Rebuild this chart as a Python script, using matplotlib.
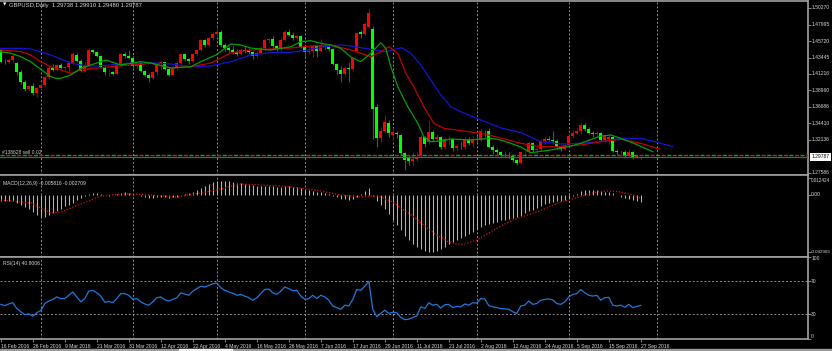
import matplotlib
matplotlib.use("Agg")
import matplotlib.pyplot as plt
from matplotlib.patches import Rectangle
from matplotlib.transforms import blended_transform_factory

plt.rcParams["font.family"] = ["Liberation Sans", "DejaVu Sans"]

W, H = 832, 351
BG = "black"
FRAME = "#a0a0a0"
TXT = "#d8d8d8"
GRID = "#8c8c8c"
FS = 3.6

# ---- daily GBPUSD candles (16 Feb 2016 .. 27 Sep 2016) ----
opens = [
    1.4450, 1.4290, 1.4285, 1.4310, 1.4270, 1.4140, 1.4010, 1.3910, 1.3950, 1.3860,
    1.3920, 1.3965, 1.4080, 1.4200, 1.4175, 1.4240, 1.4205, 1.4215, 1.4270, 1.4385,
    1.4300, 1.4160, 1.4240, 1.4445, 1.4420, 1.4360, 1.4215, 1.4140, 1.4150, 1.4115,
    1.4240, 1.4390, 1.4365, 1.4345, 1.4230, 1.4270, 1.4160, 1.4110, 1.4070, 1.4140,
    1.4260, 1.4280, 1.4190, 1.4110, 1.4200, 1.4270, 1.4390, 1.4320, 1.4300, 1.4400,
    1.4450, 1.4580, 1.4520, 1.4610, 1.4670, 1.4690, 1.4520, 1.4470, 1.4455, 1.4420,
    1.4390, 1.4450, 1.4430, 1.4420, 1.4360, 1.4410, 1.4470, 1.4580, 1.4595, 1.4500,
    1.4460, 1.4590, 1.4690, 1.4660, 1.4620, 1.4635, 1.4490, 1.4420, 1.4440, 1.4500,
    1.4430, 1.4510, 1.4490, 1.4460, 1.4260, 1.4180, 1.4120, 1.4200, 1.4190, 1.4440,
    1.4690, 1.4670, 1.4770, 1.4740, 1.3660, 1.3240, 1.3340, 1.3450, 1.3280, 1.3310,
    1.3280, 1.3030, 1.2960, 1.2920, 1.2950, 1.3000, 1.3250, 1.3180, 1.3320, 1.3220,
    1.3250, 1.3110, 1.3220, 1.3230, 1.3100, 1.3130, 1.3120, 1.3210, 1.3170, 1.3230,
    1.3210, 1.3340, 1.3330, 1.3110, 1.3070, 1.3040, 1.3010, 1.3000, 1.2990, 1.2930,
    1.2895, 1.3040, 1.3050, 1.3170, 1.3070, 1.3080, 1.3200, 1.3230, 1.3215, 1.3190,
    1.3110, 1.3090, 1.3140, 1.3260, 1.3310, 1.3330, 1.3420, 1.3360, 1.3310, 1.3290,
    1.3310, 1.3215, 1.3230, 1.3250, 1.3060, 1.3040, 1.3050, 1.2990, 1.3050, 1.2970,
    1.29738,
]
highs = [
    1.4470, 1.4330, 1.4345, 1.4400, 1.4290, 1.4170, 1.4030, 1.3970, 1.3990, 1.3945,
    1.3990, 1.4110, 1.4230, 1.4250, 1.4250, 1.4270, 1.4230, 1.4300, 1.4420, 1.4410,
    1.4320, 1.4280, 1.4480, 1.4460, 1.4430, 1.4380, 1.4230, 1.4170, 1.4165, 1.4260,
    1.4410, 1.4420, 1.4450, 1.4380, 1.4290, 1.4280, 1.4180, 1.4130, 1.4160, 1.4290,
    1.4310, 1.4290, 1.4200, 1.4230, 1.4300, 1.4400, 1.4400, 1.4340, 1.4410, 1.4460,
    1.4590, 1.4600, 1.4630, 1.4700, 1.4770, 1.4720, 1.4540, 1.4500, 1.4500, 1.4460,
    1.4470, 1.4500, 1.4470, 1.4440, 1.4430, 1.4500, 1.4600, 1.4610, 1.4640, 1.4520,
    1.4610, 1.4720, 1.4740, 1.4690, 1.4650, 1.4650, 1.4500, 1.4490, 1.4530, 1.4520,
    1.4600, 1.4530, 1.4510, 1.4480, 1.4270, 1.4230, 1.4230, 1.4290, 1.4350, 1.4700,
    1.4730, 1.4840, 1.5020, 1.4780, 1.3700, 1.3390, 1.3560, 1.3480, 1.3380, 1.3340,
    1.3300, 1.3050, 1.3000, 1.3040, 1.3050, 1.3280, 1.3270, 1.3480, 1.3350, 1.3300,
    1.3270, 1.3250, 1.3280, 1.3240, 1.3160, 1.3200, 1.3250, 1.3250, 1.3260, 1.3270,
    1.3370, 1.3350, 1.3370, 1.3140, 1.3100, 1.3060, 1.3050, 1.3040, 1.3010, 1.2950,
    1.3050, 1.3070, 1.3190, 1.3180, 1.3100, 1.3230, 1.3250, 1.3260, 1.3340, 1.3220,
    1.3140, 1.3160, 1.3280, 1.3350, 1.3370, 1.3445, 1.3440, 1.3390, 1.3330, 1.3340,
    1.3320, 1.3280, 1.3300, 1.3270, 1.3080, 1.3070, 1.3070, 1.3090, 1.3060, 1.3000,
    1.29910,
]
lows = [
    1.4275, 1.4250, 1.4270, 1.4280, 1.4100, 1.3980, 1.3880, 1.3880, 1.3835, 1.3800,
    1.3880, 1.3940, 1.4050, 1.4160, 1.4160, 1.4190, 1.4170, 1.4150, 1.4260, 1.4280,
    1.4140, 1.4150, 1.4220, 1.4390, 1.4350, 1.4200, 1.4100, 1.4090, 1.4100, 1.4100,
    1.4220, 1.4340, 1.4330, 1.4200, 1.4190, 1.4150, 1.4080, 1.4005, 1.4050, 1.4110,
    1.4180, 1.4180, 1.4090, 1.4100, 1.4170, 1.4250, 1.4300, 1.4260, 1.4290, 1.4370,
    1.4440, 1.4490, 1.4500, 1.4580, 1.4640, 1.4490, 1.4440, 1.4410, 1.4400, 1.4370,
    1.4380, 1.4410, 1.4390, 1.4330, 1.4340, 1.4390, 1.4440, 1.4540, 1.4480, 1.4440,
    1.4440, 1.4570, 1.4640, 1.4590, 1.4580, 1.4470, 1.4350, 1.4400, 1.4350, 1.4350,
    1.4420, 1.4460, 1.4440, 1.4240, 1.4120, 1.4010, 1.4090, 1.4010, 1.4170, 1.4430,
    1.4620, 1.4650, 1.4750, 1.3230, 1.3120, 1.3180, 1.3310, 1.3250, 1.3210, 1.3240,
    1.3000, 1.2800, 1.2870, 1.2850, 1.2920, 1.2980, 1.3120, 1.3160, 1.3190, 1.3200,
    1.3090, 1.3090, 1.3160, 1.3060, 1.3060, 1.3090, 1.3090, 1.3140, 1.3110, 1.3180,
    1.3190, 1.3250, 1.3100, 1.3020, 1.3010, 1.2990, 1.2980, 1.2960, 1.2910, 1.2860,
    1.2880, 1.2990, 1.3030, 1.3050, 1.3030, 1.3060, 1.3160, 1.3190, 1.3160, 1.3080,
    1.3060, 1.3070, 1.3120, 1.3240, 1.3290, 1.3300, 1.3340, 1.3290, 1.3250, 1.3250,
    1.3200, 1.3180, 1.3150, 1.3040, 1.3000, 1.2990, 1.2960, 1.2980, 1.2950, 1.2960,
    1.29480,
]
closes = [
    1.4290, 1.4285, 1.4310, 1.4360, 1.4140, 1.4010, 1.3910, 1.3950, 1.3860, 1.3920,
    1.3965, 1.4080, 1.4200, 1.4175, 1.4240, 1.4205, 1.4215, 1.4270, 1.4400, 1.4300,
    1.4160, 1.4240, 1.4445, 1.4420, 1.4360, 1.4215, 1.4140, 1.4150, 1.4115, 1.4240,
    1.4390, 1.4365, 1.4345, 1.4230, 1.4270, 1.4160, 1.4110, 1.4070, 1.4140, 1.4260,
    1.4280, 1.4190, 1.4110, 1.4200, 1.4270, 1.4390, 1.4320, 1.4300, 1.4400, 1.4450,
    1.4580, 1.4520, 1.4610, 1.4670, 1.4690, 1.4520, 1.4470, 1.4455, 1.4420, 1.4390,
    1.4450, 1.4430, 1.4420, 1.4360, 1.4410, 1.4470, 1.4580, 1.4595, 1.4500, 1.4460,
    1.4590, 1.4690, 1.4660, 1.4620, 1.4635, 1.4490, 1.4420, 1.4440, 1.4510, 1.4430,
    1.4510, 1.4490, 1.4460, 1.4260, 1.4180, 1.4120, 1.4200, 1.4190, 1.4340, 1.4680,
    1.4670, 1.4810, 1.4960, 1.3640, 1.3240, 1.3340, 1.3460, 1.3310, 1.3320, 1.3290,
    1.3030, 1.2930, 1.2920, 1.2950, 1.2980, 1.3250, 1.3150, 1.3320, 1.3220, 1.3250,
    1.3110, 1.3220, 1.3230, 1.3100, 1.3130, 1.3125, 1.3210, 1.3170, 1.3230, 1.3210,
    1.3340, 1.3330, 1.3110, 1.3070, 1.3040, 1.3010, 1.3000, 1.2990, 1.2930, 1.2895,
    1.3040, 1.3050, 1.3170, 1.3070, 1.3080, 1.3200, 1.3220, 1.3215, 1.3190, 1.3110,
    1.3090, 1.3140, 1.3260, 1.3310, 1.3330, 1.3420, 1.3360, 1.3310, 1.3290, 1.3310,
    1.3215, 1.3260, 1.3250, 1.3060, 1.3040, 1.3050, 1.2990, 1.3050, 1.2970, 1.2985,
    1.29787,
]

# ---- Alligator lines (bar position / price) ----
jaw_x = [0, 5, 7.5, 10, 12.5, 15, 17.5, 20, 22.5, 25, 27.5, 30, 32.5, 35, 37.5,
         42.5, 47.5, 52.5, 57.5, 62.5, 67.5, 72.5, 75.75, 80.75, 85, 87.5, 92.5,
         96.25, 100.25, 102.5, 105, 107.5, 110, 112.5, 115, 120, 125, 130, 135,
         140, 145, 150, 155, 160, 165, 168]
jaw_y = [1.4472, 1.4472, 1.4463, 1.4421, 1.4380, 1.4325, 1.4270, 1.4243, 1.4229,
         1.4233, 1.4243, 1.4256, 1.4270, 1.4270, 1.4274, 1.4256, 1.4219, 1.4229,
         1.4288, 1.4380, 1.4412, 1.4417, 1.4439, 1.4494, 1.4518, 1.4504, 1.4459,
         1.4426, 1.4481, 1.4404, 1.4243, 1.4036, 1.3830, 1.3669, 1.3600, 1.3486,
         1.3376, 1.3314, 1.3187, 1.3156, 1.3165, 1.3187, 1.3234, 1.3234, 1.3165,
         1.3118]
teeth_x = [0, 2.5, 5, 7.5, 10, 12.5, 15, 17.5, 20, 22.5, 25, 27.5, 30, 32.5, 35,
           37.5, 42.5, 47.5, 52.5, 57.5, 62.5, 67.5, 72.5, 77.5, 82.5, 87.5, 92.5,
           95, 97, 99.25, 101.25, 103.25, 105.75, 108.25, 110.75, 115, 120, 125,
           130, 135, 140, 145, 150, 155, 160, 164.75]
teeth_y = [1.4449, 1.4439, 1.4426, 1.4380, 1.4288, 1.4219, 1.4174, 1.4128, 1.4174,
           1.4197, 1.4205, 1.4219, 1.4233, 1.4243, 1.4252, 1.4266, 1.4201, 1.4219,
           1.4270, 1.4408, 1.4449, 1.4463, 1.4476, 1.4504, 1.4518, 1.4449, 1.4357,
           1.4426, 1.4494, 1.4404, 1.4128, 1.3944, 1.3669, 1.3440, 1.3372, 1.3339,
           1.3303, 1.3238, 1.3165, 1.3118, 1.3118, 1.3142, 1.3187, 1.3220, 1.3165,
           1.3083]
lips_x = [0, 2.5, 5, 7.5, 10, 12.5, 13.75, 15, 17.5, 20, 22.5, 25, 26.25, 27.5, 30,
          32.5, 35, 37.5, 42.5, 47.5, 50, 53.75, 57.5, 60, 62.5, 67.5, 72.5, 75,
          77.5, 80, 82.5, 85, 87.5, 90, 92.5, 95, 96.25, 97.5, 99.25, 101.75,
          104.25, 105.75, 107.5, 110, 112.5, 117.5, 122.5, 125, 127.5, 130, 132.5,
          137.5, 141.75, 145, 150, 152.5, 155, 158.25, 163]
lips_y = [1.4426, 1.4404, 1.4357, 1.4288, 1.4183, 1.4082, 1.4060, 1.4060, 1.4105,
          1.4197, 1.4243, 1.4288, 1.4311, 1.4288, 1.4243, 1.4266, 1.4288, 1.4270,
          1.4201, 1.4219, 1.4288, 1.4380, 1.4532, 1.4518, 1.4476, 1.4449, 1.4494,
          1.4563, 1.4577, 1.4541, 1.4518, 1.4472, 1.4353, 1.4288, 1.4404, 1.4549,
          1.4472, 1.4219, 1.3944, 1.3669, 1.3440, 1.3256, 1.3187, 1.3197, 1.3224,
          1.3211, 1.3234, 1.3211, 1.3165, 1.3114, 1.3036, 1.3073, 1.3118, 1.3165,
          1.3266, 1.3279, 1.3234, 1.3165, 1.3050]

# ---- MACD(12,26,9) ----
macd_main = [
    -0.0045, -0.0048, -0.0050, -0.0050, -0.0060, -0.0080, -0.0092, -0.0110, -0.0132, -0.0155,
    -0.0165, -0.0168, -0.0155, -0.0140, -0.0125, -0.0105, -0.0088, -0.0075, -0.0060, -0.0042,
    -0.0025, -0.0012, 0.0005, 0.0012, 0.0010, 0.0002, -0.0006, -0.0010, -0.0004, 0.0004,
    0.0012, 0.0016, 0.0012, 0.0005, 0.0000, -0.0008, -0.0016, -0.0023, -0.0026, -0.0022,
    -0.0018, -0.0020, -0.0024, -0.0022, -0.0015, -0.0002, 0.0006, 0.0010, 0.0018, 0.0030,
    0.0045, 0.0060, 0.0075, 0.0090, 0.0100, 0.0102, 0.0100, 0.0097, 0.0092, 0.0086,
    0.0082, 0.0078, 0.0074, 0.0068, 0.0064, 0.0062, 0.0065, 0.0066, 0.0062, 0.0058,
    0.0058, 0.0062, 0.0062, 0.0058, 0.0053, 0.0045, 0.0036, 0.0030, 0.0026, 0.0020,
    0.0016, 0.0010, 0.0002, -0.0010, -0.0022, -0.0032, -0.0036, -0.0040, -0.0035, -0.0015,
    0.0005, 0.0025, 0.0045, -0.0010, -0.0045, -0.0080, -0.0110, -0.0145, -0.0185, -0.0225,
    -0.0265, -0.0305, -0.0335, -0.0365, -0.0385, -0.0400, -0.0420, -0.0429, -0.0422, -0.0415,
    -0.0400, -0.0385, -0.0365, -0.0352, -0.0340, -0.0322, -0.0305, -0.0292, -0.0275, -0.0258,
    -0.0238, -0.0226, -0.0220, -0.0210, -0.0200, -0.0192, -0.0185, -0.0178, -0.0172, -0.0170,
    -0.0158, -0.0140, -0.0125, -0.0115, -0.0100, -0.0085, -0.0072, -0.0060, -0.0052, -0.0048,
    -0.0045, -0.0038, -0.0025, -0.0010, 0.0005, 0.0025, 0.0032, 0.0034, 0.0033, 0.0030,
    0.0026, 0.0022, 0.0018, 0.0008, -0.0005, -0.0015, -0.0025, -0.0032, -0.0042, -0.0050,
    -0.0058,
]
signal_x = [0, 7.5, 10, 12.5, 15, 17.5, 20, 22.5, 25, 27.5, 30, 33.25, 37.5, 40,
            43.75, 46.25, 50, 55, 60, 65, 70, 75, 80, 85, 90, 93, 95, 98, 100, 103,
            106, 109, 112, 114, 116, 119, 122, 125, 128, 131, 134, 137, 140, 143,
            146, 149, 152, 155, 158, 160]
signal_y = [-0.0041, -0.0063, -0.0100, -0.0137, -0.0130, -0.0100, -0.0070, -0.0041,
            -0.0011, -0.0004, 0.0004, 0.0004, -0.0004, -0.0011, -0.0019, -0.0007,
            0.0011, 0.0041, 0.0078, 0.0070, 0.0063, 0.0048, 0.0026, -0.0004, -0.0019,
            -0.0011, -0.0019, -0.0056, -0.0100, -0.0159, -0.0233, -0.0300, -0.0352,
            -0.0366, -0.0366, -0.0337, -0.0285, -0.0233, -0.0189, -0.0159, -0.0130,
            -0.0093, -0.0056, -0.0033, -0.0004, 0.0019, 0.0026, 0.0019, -0.0004,
            -0.0027]

# ---- RSI(14) ----
rsi = [
    42, 40.5, 42.5, 44, 37, 33, 29.5, 30.5, 27.5, 32,
    34.5, 43, 46, 48, 51, 49, 49, 53, 57, 51,
    45, 49, 58, 59, 56, 52, 44.5, 45.5, 44, 49,
    55, 55, 53, 48, 49, 45, 42.5, 41, 45, 50,
    51, 47.5, 46, 48, 50, 56, 54.5, 53, 58, 61,
    64, 63, 65, 67, 68, 62, 59, 57, 55.5, 53,
    54, 52, 50, 47, 50, 55, 60, 60.5, 56, 54,
    58, 63, 61, 58.5, 59, 52, 48, 49, 53, 49,
    53, 51, 47, 40, 38, 36, 41, 40, 48, 60,
    59, 64, 70, 36, 27, 31, 35, 31, 32.5, 32,
    26, 23.5, 24, 26, 28, 39, 37, 44, 41, 42,
    37.5, 41.5, 42, 38, 39.5, 39, 42.5, 41, 44, 43.5,
    49, 48.5, 40.5, 39, 38, 37, 36.5, 36, 33, 31,
    40, 41, 46, 42, 43, 47, 48, 48.5, 47.5, 43,
    42, 45, 51, 54, 55, 60, 56, 53, 52, 53,
    47, 50, 50.5, 41, 40, 41, 38.5, 42, 38, 39.5,
    40.8006,
]

date_pos = [0, 8, 16, 24, 32, 40, 48, 56, 64, 72, 80, 88, 96, 104, 112, 120,
            128, 136, 144, 152, 160]
date_labels = ["16 Feb 2016", "26 Feb 2016", "9 Mar 2016", "21 Mar 2016",
               "31 Mar 2016", "12 Apr 2016", "22 Apr 2016", "4 May 2016",
               "16 May 2016", "26 May 2016", "7 Jun 2016", "17 Jun 2016",
               "29 Jun 2016", "11 Jul 2016", "21 Jul 2016", "2 Aug 2016",
               "12 Aug 2016", "24 Aug 2016", "5 Sep 2016", "15 Sep 2016",
               "27 Sep 2016"]
month_starts = [10, 33, 54, 76, 98, 119, 142, 164]

price_ticks = [1.50270, 1.47995, 1.45720, 1.43445, 1.41216, 1.38960, 1.36686,
               1.34410, 1.32136, 1.27586]
last_price = 1.29787
order_price = 1.2999

fig = plt.figure(figsize=(W / 100, H / 100), dpi=100, facecolor=BG)


def pane(y0, y1):
    ax = fig.add_axes([0, 1 - y1 / H, 808 / W, (y1 - y0) / H], facecolor=BG)
    ax.set_xlim(-0.2, 201.8)
    for side, sp in ax.spines.items():
        sp.set_color(FRAME)
        sp.set_linewidth(1.2)
    ax.spines["left"].set_visible(False)
    ax.tick_params(axis="y", left=False, labelleft=False, right=True,
                   labelright=False, length=2, width=0.6, color=FRAME)
    ax.tick_params(axis="x", bottom=False, labelbottom=False)
    for m in month_starts:
        ax.axvline(m, color=GRID, lw=0.7, ls=(0, (2, 2)), zorder=0.5)
    return ax


def right_label(ax, val, s, va="center", fs=FS, **kw):
    tr = blended_transform_factory(ax.transAxes, ax.transData)
    ax.text(1.004, val, s, transform=tr, ha="left", va=va, fontsize=fs,
            color=kw.pop("color", TXT), clip_on=False, **kw)


ax = pane(0.5, 175)
axm = pane(175, 256.5)
axr = pane(256.5, 339)

# ---- main price pane ----
ax.set_ylim(1.27290, 1.51301)
idx = list(range(len(closes)))
up = [c >= o for o, c in zip(opens, closes)]
ax.vlines(idx, lows, highs, colors=["#a00000" if u else "#008a00" for u in up],
          lw=0.8, zorder=2)
ax.bar(idx, [max(abs(c - o), 0.0003) for o, c in zip(opens, closes)],
       bottom=[min(o, c) for o, c in zip(opens, closes)], width=0.68,
       color=["#ff0000" if u else "#00ff00" for u in up], lw=0, zorder=2.5)
ax.plot(jaw_x, jaw_y, color="#1414d2", lw=0.9, zorder=3)
ax.plot(teeth_x, teeth_y, color="#c00000", lw=0.9, zorder=3)
ax.plot(lips_x, lips_y, color="#00a000", lw=0.9, zorder=3)

ax.axhline(last_price, color="#3d6b55", lw=0.9, zorder=4)
ax.axhline(order_price, color="#1f9a1f", lw=1.0, ls=(0, (3, 5)), zorder=4)
ax.axhline(order_price, color="#c02020", lw=1.0, ls=(4, (3, 5)), zorder=4)
ax.text(0.4, order_price + 0.0012, "#138628 sell 0.02", fontsize=FS,
        color="#c8c8c8", va="bottom", ha="left", zorder=5)

ax.set_yticks(price_ticks)
for p in price_ticks:
    right_label(ax, p, f"{p:.5f}")
right_label(ax, last_price, f"{last_price:.5f}", color="black",
            bbox=dict(boxstyle="square,pad=0.3", fc="white", ec="none"))

fig.text(3 / W, 1 - 5 / H, "\u25bc", fontsize=3.2, color="white", va="center",
         family="DejaVu Sans")
fig.text(9 / W, 1 - 5 / H, "GBPUSD,Daily  1.29738 1.29910 1.29480 1.29787",
         fontsize=4.2, color=TXT, va="center")

# ---- MACD pane ----
axm.set_ylim(-0.04588, 0.01443)
axm.vlines(idx, 0, macd_main, colors="#b4b4b4", lw=0.75, zorder=2)
axm.plot(signal_x, signal_y, color="#e01010", lw=0.9, ls=(0, (1, 1.4)), zorder=3)
axm.set_yticks([0.012424, 0.0, -0.042903])
right_label(axm, 0.012424, "0.012424", va="top", fs=3.3)
right_label(axm, 0.0, "0.00")
right_label(axm, -0.042903, "-0.042903", fs=3.2)
axm.text(0.004, 0.93, "MACD(12,26,9) -0.005816 -0.002709", transform=axm.transAxes,
         fontsize=FS, color=TXT, va="top", ha="left")

# ---- RSI pane ----
axr.set_ylim(0, 100)
axr.axhline(70, color=GRID, lw=0.7, ls=(0, (2, 2)), zorder=0.5)
axr.axhline(30, color=GRID, lw=0.7, ls=(0, (2, 2)), zorder=0.5)
axr.plot(idx, rsi, color="#1e78dc", lw=0.9, zorder=3)
axr.set_yticks([100, 70, 30, 0])
right_label(axr, 100, "100", va="top")
right_label(axr, 70, "70")
right_label(axr, 30, "30")
right_label(axr, 0, "0", va="bottom")
axr.text(0.004, 0.95, "RSI(14) 40.8006", transform=axr.transAxes,
         fontsize=FS, color=TXT, va="top", ha="left")

axr.set_xticks(date_pos)
axr.set_xticklabels(date_labels, ha="left")
axr.tick_params(axis="x", bottom=True, labelbottom=True, length=2, width=0.6,
                color=FRAME, labelsize=FS, labelcolor=TXT, pad=1.5)

# bottom strip
fig.patches.append(Rectangle((0, 0), 1, 2.5 / H, transform=fig.transFigure,
                             color="#9a9a9a", zorder=0))
fig.patches.append(Rectangle((179 / W, 0), 53 / W, 2.5 / H,
                             transform=fig.transFigure, color="#f0f0f0", zorder=1))

fig.savefig("out.png", dpi=100, facecolor=BG)
